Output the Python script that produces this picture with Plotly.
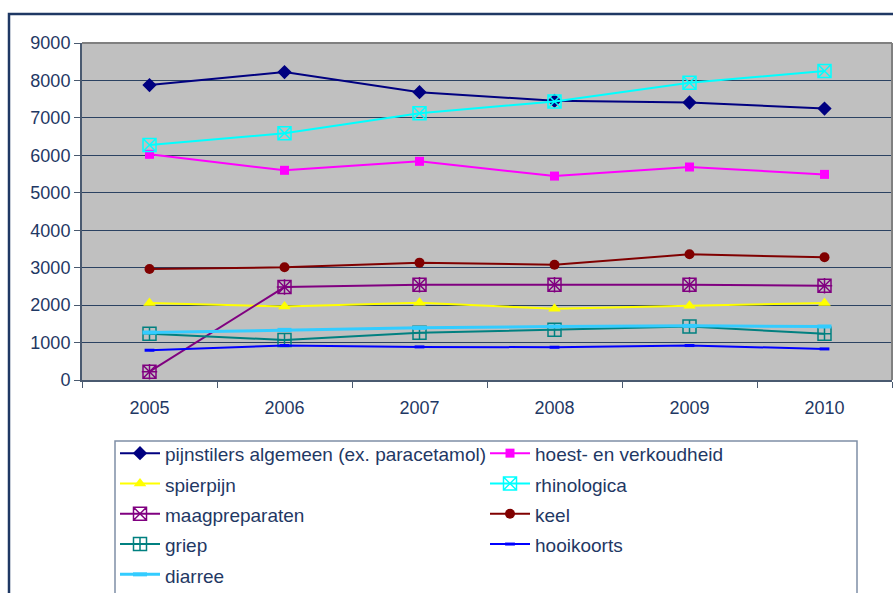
import plotly.graph_objects as go

years = ["2005", "2006", "2007", "2008", "2009", "2010"]

pijnstilers = [7876, 8224, 7688, 7455, 7411, 7250]
hoest = [6027, 5600, 5840, 5446, 5688, 5491]
spierpijn = [2054, 1964, 2063, 1902, 1982, 2054]
rhinologica = [6277, 6590, 7125, 7438, 7938, 8250]
maag = [222, 2482, 2545, 2545, 2545, 2518]
keel = [2965, 3009, 3134, 3080, 3357, 3277]
griep = [1232, 1071, 1259, 1339, 1429, 1232]
hooikoorts = [795, 920, 884, 875, 920, 830]
diarree = [1268, 1339, 1393, 1429, 1446, 1429]

names = ["pijnstilers algemeen (ex. paracetamol)", "hoest- en verkoudheid", "spierpijn",
         "rhinologica", "maagpreparaten", "keel", "griep", "hooikoorts", "diarree"]

TXT = "#1F3864"
W, H = 893, 593
L, R, T, B = 82, 1, 43, 213
pw, ph = W - L - R, H - T - B


def px_x(v):
    return (v - L) / pw


def px_y(v):
    return (H - B - v) / ph


def lab(s):
    return '<span style="font-size:19px">' + s + '</span>'


fig = go.Figure()

specs = [
    (pijnstilers, "#000080", 2, dict(symbol="diamond", size=11, color="#000080")),
    (hoest, "#FF00FF", 2, dict(symbol="square", size=9, color="#FF00FF")),
    (spierpijn, "#FFFF00", 2, dict(symbol="triangle-up", size=11, color="#FFFF00")),
    (rhinologica, "#00FFFF", 2, dict(symbol="square-x-open", size=13, color="#00FFFF",
                                      line=dict(width=1.5, color=["#FFFF00"] + ["#00FFFF"] * 5))),
    (maag, "#800080", 2, dict(symbol="square-x-open", size=13, color="#800080",
                               line=dict(width=1.5, color=["#00FFFF"] + ["#800080"] * 5))),
    (keel, "#800000", 2, dict(symbol="circle", size=10, color="#800000")),
    (griep, "#008080", 2, dict(symbol="square-cross-open", size=13, color="#008080",
                                line=dict(width=1.5, color=["#800000"] + ["#008080"] * 5))),
    (hooikoorts, "#0000FF", 2, dict(symbol="line-ew-open", size=7, color="#0000FF",
                                     line=dict(width=3, color="#0000FF"))),
    (diarree, "#33CCFF", 3, dict(symbol="line-ew-open", size=10, color="#33CCFF",
                                  line=dict(width=4, color="#33CCFF"))),
]

for (vals, col, lw, mk), nm in zip(specs, names):
    fig.add_trace(go.Scatter(x=years, y=vals, mode="lines+markers", name=lab(nm),
                             line=dict(color=col, width=lw), marker=mk))

# asterisk arms for maagpreparaten markers
fig.add_trace(go.Scatter(x=years, y=maag, mode="markers", showlegend=False,
                         marker=dict(symbol="cross-thin-open", size=11, color="#800080",
                                     line=dict(width=1.5, color="#800080"))))

fig.update_layout(
    width=W, height=H,
    margin=dict(l=L, r=R, t=T, b=B, autoexpand=False),
    paper_bgcolor="white",
    plot_bgcolor="#C0C0C0",
    font=dict(family="Liberation Sans, Arial, sans-serif", size=18, color=TXT),
    showlegend=True,
    legend=dict(
        orientation="h",
        x=px_x(115), xanchor="left",
        y=px_y(433), yanchor="top",
        entrywidth=315, entrywidthmode="pixels",
        itemwidth=40,
        bgcolor="rgba(0,0,0,0)", borderwidth=0,
        font=dict(size=21, color=TXT),
        traceorder="normal",
    ),
    xaxis=dict(
        type="category", range=[-0.5, 5.5], tickson="boundaries",
        ticks="outside", ticklen=6, tickcolor="#4A5A70",
        showline=True, linecolor="#4A5A70", linewidth=2, mirror=False,
        showgrid=False, ticklabelstandoff=10,
        tickfont=dict(size=18, color=TXT),
    ),
    yaxis=dict(
        range=[0, 9000], dtick=1000, tick0=0,
        ticks="outside", ticklen=6, tickcolor="#4A5A70",
        showline=True, linecolor="#4A5A70", linewidth=2,
        showgrid=True, gridcolor="#2B4262", gridwidth=1,
        zeroline=False,
        tickfont=dict(size=18, color=TXT),
    ),
    shapes=[
        # outer chart border
        dict(type="rect", xref="paper", yref="paper",
             x0=px_x(9), x1=px_x(W + 20), y0=px_y(H + 20), y1=px_y(14),
             line=dict(color=TXT, width=2.5), fillcolor="rgba(0,0,0,0)", layer="below"),
        # legend box
        dict(type="rect", xref="paper", yref="paper",
             x0=px_x(115), x1=px_x(857), y0=px_y(H + 20), y1=px_y(441),
             line=dict(color="#7F8FA6", width=1.5), fillcolor="white", layer="below"),
        # plot area frame top/right
        dict(type="line", xref="paper", yref="paper", x0=0, x1=1, y0=1, y1=1,
             line=dict(color="#808080", width=2)),
        dict(type="line", xref="paper", yref="paper", x0=1, x1=1, y0=0, y1=1,
             line=dict(color="#808080", width=2)),
    ],
)

post = ("document.documentElement.style.margin='0';document.body.style.margin='0';"
        "document.body.style.padding='0';document.body.style.overflow='hidden';"
        "document.documentElement.style.overflow='hidden';")

fig.write_html("out.html", post_script=post, config={"displayModeBar": False})
